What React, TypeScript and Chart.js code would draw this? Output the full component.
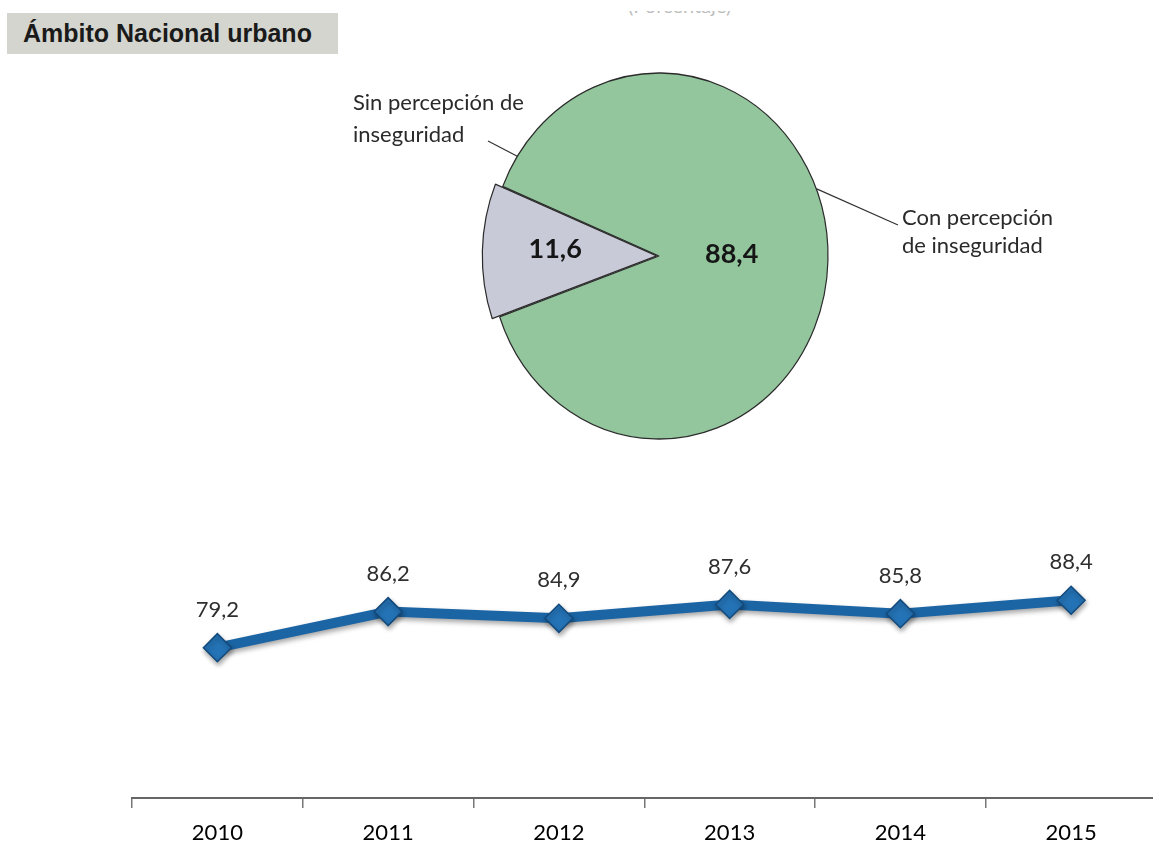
import React, { useEffect, useRef } from "react";
import { Chart, registerables } from "chart.js";

Chart.register(...registerables);

// ---------- data ----------
const pieLabels = ["Sin percepción de inseguridad", "Con percepción de inseguridad"];
const pieLabelLines = [["Sin percepción de", "inseguridad"], ["Con percepción", "de inseguridad"]];
const pieValues = [11.6, 88.4];
const pieColors = ["#c8cad7", "#93c69d"];

const years = ["2010", "2011", "2012", "2013", "2014", "2015"];
const trendValues = [79.2, 86.2, 84.9, 87.6, 85.8, 88.4];

const TITLE = "Ámbito Nacional urbano";
const SUBTITLE = "(Porcentaje)";

const fmt = (v: number) => v.toFixed(1).replace(".", ",");

const LABEL_FONT = "Lato, 'Open Sans', sans-serif";
const SX = 169 / 183; // horizontal squash of the pie (elliptical look)
const EXPLODED_RADIUS = 188; // exploded slice is drawn slightly larger, as in the source

function PieChart() {
  const ref = useRef<HTMLCanvasElement>(null);
  useEffect(() => {
    if (!ref.current) return;
    const ellipsePlugin = {
      id: "ellipse",
      beforeDatasetsDraw(chart: any) {
        const arcs = chart.getDatasetMeta(0).data;
        arcs[0].outerRadius = EXPLODED_RADIUS;
        const arc = arcs[0];
        const ctx = chart.ctx;
        ctx.save();
        ctx.translate(arc.x, arc.y);
        ctx.scale(SX, 1);
        ctx.translate(-arc.x, -arc.y);
      },
      afterDatasetsDraw(chart: any) {
        chart.ctx.restore();
      },
    };
    const labelPlugin = {
      id: "pieLabels",
      afterDraw(chart: any) {
        const ctx = chart.ctx;
        const arcs = chart.getDatasetMeta(0).data;
        const cx = arcs[1].x;
        const cy = arcs[1].y;
        const R = arcs[1].outerRadius;
        const fractions = [0.56, 0.43];
        ctx.save();
        // values inside slices
        ctx.font = `bold 27px ${LABEL_FONT}`;
        ctx.fillStyle = "#151515";
        ctx.textAlign = "center";
        ctx.textBaseline = "alphabetic";
        arcs.forEach((a: any, i: number) => {
          const mid = (a.startAngle + a.endAngle) / 2;
          const off = a.options.offset || 0;
          const d = off + fractions[i] * R;
          const x = cx + SX * Math.cos(mid) * d;
          const y = cy + Math.sin(mid) * d;
          ctx.fillText(fmt(pieValues[i]), x, y + 5);
        });
        // leader lines
        ctx.strokeStyle = "#333";
        ctx.lineWidth = 1.2;
        const onEllipse = (deg: number) => {
          const t = (deg * Math.PI) / 180;
          return [cx + SX * R * Math.cos(t), cy + R * Math.sin(t)];
        };
        const p1 = onEllipse(213);
        ctx.beginPath();
        ctx.moveTo(p1[0], p1[1]);
        ctx.lineTo(cx - 171, cy - 115);
        ctx.stroke();
        const p2 = onEllipse(-21.6);
        ctx.beginPath();
        ctx.moveTo(p2[0], p2[1]);
        ctx.lineTo(cx + 239, cy - 31);
        ctx.stroke();
        // outside labels
        ctx.font = `22px ${LABEL_FONT}`;
        ctx.fillStyle = "#2a2a2a";
        ctx.textAlign = "left";
        ctx.fillText(pieLabelLines[0][0], cx - 306, cy - 146);
        ctx.fillText(pieLabelLines[0][1], cx - 306, cy - 114);
        ctx.fillText(pieLabelLines[1][0], cx + 243, cy - 31);
        ctx.fillText(pieLabelLines[1][1], cx + 243, cy - 3);
        ctx.restore();
      },
    };
    const chart = new Chart(ref.current, {
      type: "pie",
      data: {
        labels: pieLabels,
        datasets: [
          {
            data: pieValues,
            backgroundColor: pieColors,
            borderColor: "#2b2b2b",
            borderWidth: 1.3,
            offset: [10, 0],
            rotation: 250.6,
            radius: 183,
          } as any,
        ],
      },
      options: {
        animation: false,
        responsive: false,
        maintainAspectRatio: false,
        layout: { padding: 0 },
        plugins: { legend: { display: false }, tooltip: { enabled: false } },
      },
      plugins: [ellipsePlugin, labelPlugin],
    });
    return () => chart.destroy();
  }, []);
  return (
    <canvas
      ref={ref}
      width={800}
      height={432}
      style={{ position: "absolute", left: 259, top: 40, width: 800, height: 432 }}
    />
  );
}

function LineChart() {
  const ref = useRef<HTMLCanvasElement>(null);
  useEffect(() => {
    if (!ref.current) return;
    const shadowPlugin = {
      id: "lineShadow",
      beforeDatasetsDraw(chart: any) {
        const ctx = chart.ctx;
        ctx.save();
        ctx.shadowColor = "rgba(0,0,0,0.35)";
        ctx.shadowBlur = 5;
        ctx.shadowOffsetX = 1;
        ctx.shadowOffsetY = 3;
      },
      afterDatasetsDraw(chart: any) {
        chart.ctx.restore();
      },
    };
    const valuePlugin = {
      id: "values",
      afterDraw(chart: any) {
        const ctx = chart.ctx;
        const pts = chart.getDatasetMeta(0).data;
        ctx.save();
        ctx.font = `22px ${LABEL_FONT}`;
        ctx.fillStyle = "#2f2f2f";
        ctx.textAlign = "center";
        ctx.textBaseline = "middle";
        pts.forEach((p: any, i: number) => {
          ctx.fillText(fmt(trendValues[i]), p.x, p.y - 38);
        });
        ctx.restore();
      },
    };
    const chart = new Chart(ref.current, {
      type: "line",
      data: {
        labels: years,
        datasets: [
          {
            data: trendValues,
            borderColor: "#1c65a5",
            borderWidth: 10,
            pointStyle: "rectRot",
            pointRadius: 14,
            pointBackgroundColor: "#2473b6",
            pointBorderColor: "#134a7c",
            pointBorderWidth: 1.5,
            tension: 0,
            clip: false,
          } as any,
        ],
      },
      options: {
        animation: false,
        responsive: false,
        maintainAspectRatio: false,
        layout: { padding: { left: 132, top: 38, right: 0, bottom: 0 } },
        plugins: { legend: { display: false }, tooltip: { enabled: false } },
        scales: {
          x: {
            offset: true,
            grid: {
              display: true,
              drawOnChartArea: false,
              drawTicks: true,
              tickLength: 10,
              color: "#777",
              lineWidth: 1.5,
              offset: true,
            },
            border: { display: true, color: "#666", width: 2 },
            ticks: { font: { family: LABEL_FONT, size: 22 }, color: "#000", padding: 12 },
            afterFit: (s: any) => {
              s.height = 49;
            },
          } as any,
          y: { display: false, min: 50, max: 100.5 },
        },
      },
      plugins: [shadowPlugin, valuePlugin],
    });
    return () => chart.destroy();
  }, []);
  return (
    <canvas
      ref={ref}
      width={1172}
      height={347}
      style={{ position: "absolute", left: 0, top: 500, width: 1172, height: 347 }}
    />
  );
}

export default function App() {
  return (
    <div
      style={{
        position: "absolute",
        left: 0,
        top: 0,
        width: 1153,
        height: 847,
        overflow: "hidden",
        background: "#ffffff",
      }}
    >
      <div
        style={{
          position: "absolute",
          left: 628,
          top: 11,
          height: 6,
          width: 160,
          overflow: "hidden",
          opacity: 0.35,
        }}
      >
        <div
          style={{
            position: "absolute",
            left: 0,
            top: -16,
            font: `20px/20px ${LABEL_FONT}`,
            color: "#444",
            whiteSpace: "nowrap",
          }}
        >
          {SUBTITLE}
        </div>
      </div>
      <PieChart />
      <LineChart />
      <div
        style={{
          position: "absolute",
          left: 7,
          top: 13,
          width: 315,
          height: 41,
          paddingLeft: 16,
          background: "#d5d5cf",
          color: "#1a1a1a",
          font: "bold 25px/41px 'Liberation Sans', Arial, sans-serif",
          whiteSpace: "nowrap",
        }}
      >
        {TITLE}
      </div>
    </div>
  );
}
